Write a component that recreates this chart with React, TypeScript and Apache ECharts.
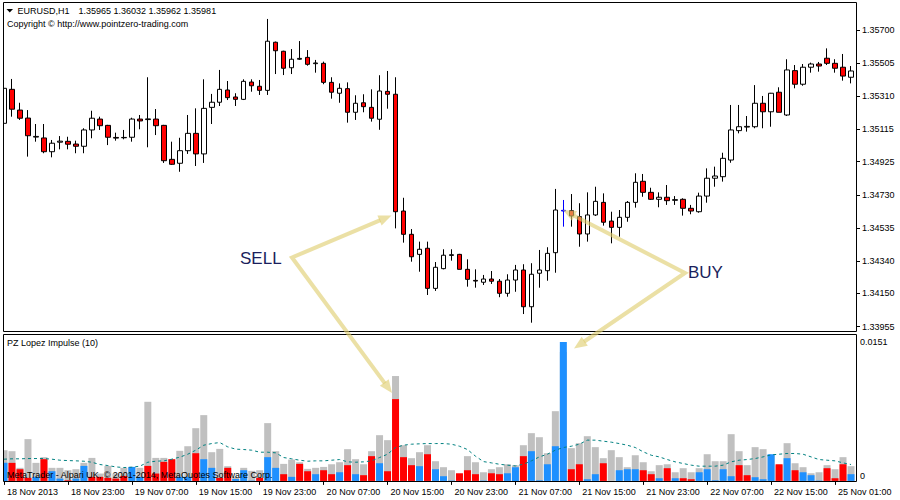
import React, { useEffect, useRef } from "react";
import * as echarts from "echarts";

// ---- Data (EURUSD H1, 18 Nov 2013 15:00 -> 25 Nov 2013) ----
const timeLabels = [
  "18 Nov 2013", "18 Nov 23:00", "19 Nov 07:00", "19 Nov 15:00", "19 Nov 23:00",
  "20 Nov 07:00", "20 Nov 15:00", "20 Nov 23:00", "21 Nov 07:00", "21 Nov 15:00",
  "21 Nov 23:00", "22 Nov 07:00", "22 Nov 15:00", "25 Nov 01:00",
];
const labelEvery = 8;

const opens = [
  1.35151, 1.35351, 1.35229, 1.35182, 1.35070, 1.35065, 1.34984, 1.35040, 1.35045, 1.35029,
  1.35016, 1.35112, 1.35176, 1.35139, 1.35068, 1.35066, 1.35069, 1.35176, 1.35173, 1.35176,
  1.35139, 1.34939, 1.34916, 1.34990, 1.35092, 1.34971, 1.35245, 1.35275, 1.35347, 1.35306,
  1.35292, 1.35394, 1.35369, 1.35345, 1.35628, 1.35575, 1.35478, 1.35528, 1.35539, 1.35502,
  1.35504, 1.35392, 1.35328, 1.35355, 1.35216, 1.35272, 1.35245, 1.35175, 1.35339, 1.35322,
  1.34635, 1.34498, 1.34380, 1.34416, 1.34180, 1.34296, 1.34374, 1.34380, 1.34292, 1.34227,
  1.34216, 1.34235, 1.34222, 1.34151, 1.34229, 1.34288, 1.34072, 1.34269, 1.34284, 1.34390,
  1.34639, 1.34637, 1.34602, 1.34500, 1.34612, 1.34686, 1.34576, 1.34539, 1.34598, 1.34686,
  1.34810, 1.34745, 1.34704, 1.34716, 1.34698, 1.34704, 1.34651, 1.34631, 1.34723, 1.34828,
  1.34837, 1.34935, 1.35108, 1.35129, 1.35131, 1.35269, 1.35219, 1.35334, 1.35200, 1.35461,
  1.35381, 1.35481, 1.35500, 1.35534, 1.35504, 1.35481, 1.35422,
];
const highs = [
  1.35406, 1.35412, 1.35272, 1.35229, 1.35147, 1.35147, 1.35053, 1.35076, 1.35072, 1.35049,
  1.35122, 1.35225, 1.35190, 1.35142, 1.35096, 1.35112, 1.35184, 1.35200, 1.35422, 1.35235,
  1.35142, 1.35043, 1.35066, 1.35200, 1.35239, 1.35410, 1.35324, 1.35465, 1.35400, 1.35328,
  1.35410, 1.35410, 1.35406, 1.35765, 1.35632, 1.35578, 1.35588, 1.35635, 1.35582, 1.35524,
  1.35514, 1.35422, 1.35386, 1.35392, 1.35316, 1.35322, 1.35351, 1.35434, 1.35459, 1.35422,
  1.34713, 1.34529, 1.34455, 1.34455, 1.34335, 1.34410, 1.34410, 1.34383, 1.34351, 1.34292,
  1.34259, 1.34282, 1.34235, 1.34263, 1.34318, 1.34322, 1.34328, 1.34406, 1.34422, 1.34765,
  1.34700, 1.34735, 1.34681, 1.34745, 1.34778, 1.34739, 1.34631, 1.34641, 1.34694, 1.34857,
  1.34853, 1.34772, 1.34745, 1.34788, 1.34723, 1.34710, 1.34671, 1.34743, 1.34886, 1.34896,
  1.34978, 1.35259, 1.35259, 1.35194, 1.35376, 1.35312, 1.35330, 1.35363, 1.35528, 1.35494,
  1.35500, 1.35508, 1.35512, 1.35592, 1.35528, 1.35559, 1.35488,
];
const lows = [
  1.35147, 1.35190, 1.35171, 1.34955, 1.35043, 1.34975, 1.34951, 1.34998, 1.34998, 1.34975,
  1.34975, 1.35063, 1.35112, 1.35023, 1.35049, 1.35057, 1.35043, 1.35116, 1.35010, 1.35082,
  1.34918, 1.34906, 1.34866, 1.34971, 1.34900, 1.34918, 1.35147, 1.35253, 1.35288, 1.35253,
  1.35288, 1.35337, 1.35318, 1.35318, 1.35441, 1.35435, 1.35441, 1.35524, 1.35490, 1.35449,
  1.35381, 1.35296, 1.35272, 1.35155, 1.35171, 1.35216, 1.35161, 1.35113, 1.35237, 1.34533,
  1.34449, 1.34337, 1.34278, 1.34141, 1.34165, 1.34292, 1.34343, 1.34292, 1.34190, 1.34184,
  1.34200, 1.34206, 1.34128, 1.34131, 1.34160, 1.34029, 1.33978, 1.34184, 1.34225, 1.34272,
  1.34543, 1.34543, 1.34425, 1.34455, 1.34606, 1.34549, 1.34445, 1.34484, 1.34572, 1.34655,
  1.34719, 1.34700, 1.34657, 1.34671, 1.34671, 1.34608, 1.34616, 1.34625, 1.34684, 1.34778,
  1.34808, 1.34919, 1.35092, 1.35102, 1.35122, 1.35122, 1.35131, 1.35216, 1.35194, 1.35357,
  1.35372, 1.35449, 1.35455, 1.35494, 1.35449, 1.35402, 1.35386,
];
const closes = [
  1.35357, 1.35234, 1.35181, 1.35078, 1.35074, 1.34984, 1.35034, 1.35046, 1.35028, 1.35016,
  1.35112, 1.35181, 1.35137, 1.35069, 1.35064, 1.35068, 1.35176, 1.35165, 1.35177, 1.35137,
  1.34931, 1.34910, 1.34990, 1.35092, 1.34971, 1.35239, 1.35275, 1.35351, 1.35302, 1.35292,
  1.35398, 1.35372, 1.35345, 1.35634, 1.35578, 1.35475, 1.35528, 1.35533, 1.35498, 1.35506,
  1.35392, 1.35334, 1.35357, 1.35216, 1.35269, 1.35249, 1.35181, 1.35341, 1.35322, 1.34631,
  1.34498, 1.34366, 1.34410, 1.34180, 1.34304, 1.34375, 1.34378, 1.34292, 1.34233, 1.34223,
  1.34235, 1.34222, 1.34151, 1.34229, 1.34288, 1.34072, 1.34263, 1.34288, 1.34386, 1.34641,
  1.34635, 1.34606, 1.34500, 1.34612, 1.34692, 1.34569, 1.34539, 1.34598, 1.34686, 1.34804,
  1.34745, 1.34704, 1.34716, 1.34696, 1.34702, 1.34651, 1.34635, 1.34723, 1.34828, 1.34841,
  1.34945, 1.35112, 1.35131, 1.35133, 1.35269, 1.35219, 1.35328, 1.35216, 1.35465, 1.35381,
  1.35481, 1.35500, 1.35488, 1.35504, 1.35475, 1.35429, 1.35459,
];
const markedCandle = 70; // candle drawn in blue

const priceTicks = [1.357, 1.35505, 1.3531, 1.35115, 1.34925, 1.3473, 1.34535, 1.3434, 1.3415, 1.33955];
const impulseTicks = [0, 0.0151];

// PZ Lopez Impulse (10): grey range, signed impulse (+ blue / - red), dotted signal line
const impulseRange = [
  0.00334, 0.00323, 0.00142, 0.00454, 0.00196, 0.00258, 0.00142, 0.00142, 0.00116, 0.00127,
  0.00196, 0.00250, 0.00080, 0.00163, 0.00080, 0.00142, 0.00152, 0.00142, 0.00860, 0.00250,
  0.00250, 0.00232, 0.00327, 0.00377, 0.00573, 0.00715, 0.00312, 0.00348, 0.00160, 0.00040,
  0.00142, 0.00109, 0.00116, 0.00628, 0.00323, 0.00185, 0.00232, 0.00203, 0.00131, 0.00142,
  0.00152, 0.00181, 0.00203, 0.00345, 0.00236, 0.00181, 0.00323, 0.00497, 0.00443, 0.01140,
  0.00388, 0.00247, 0.00312, 0.00388, 0.00214, 0.00149, 0.00116, 0.00070, 0.00269, 0.00203,
  0.00094, 0.00127, 0.00149, 0.00181, 0.00171, 0.00388, 0.00519, 0.00475, 0.00301, 0.00758,
  0.01400, 0.00356, 0.00410, 0.00486, 0.00367, 0.00247, 0.00334, 0.00258, 0.00149, 0.00279,
  0.00203, 0.00105, 0.00171, 0.00181, 0.00094, 0.00138, 0.00094, 0.00138, 0.00290, 0.00214,
  0.00214, 0.00508, 0.00323, 0.00171, 0.00367, 0.00345, 0.00280, 0.00170, 0.00410, 0.00192,
  0.00149, 0.00083, 0.00094, 0.00171, 0.00127, 0.00258, 0.00160,
];
const impulse = [
  0.00196, -0.00196, -0.00127, -0.00033, 0.00044, -0.00236, 0.00105, 0.00025, -0.00007, 0.00025,
  0.00163, -0.00044, -0.00044, -0.00033, -0.00025, -0.00054, 0.00152, 0.00044, -0.00163, -0.00080,
  -0.00207, -0.00236, 0.00044, 0.00044, -0.00301, 0.00236, 0.00142, -0.00033, -0.00142, 0.00020,
  0.00116, 0.00004, -0.00033, 0.00258, 0.00142, -0.00073, 0.00044, -0.00185, -0.00105, 0.00073,
  -0.00116, -0.00073, 0.00094, -0.00171, 0.00073, -0.00062, -0.00269, 0.00192, -0.00105, -0.00889,
  -0.00258, -0.00171, 0.00160, -0.00290, 0.00127, 0.00051, 0.00004, -0.00083, -0.00116, -0.00073,
  0.00004, -0.00083, -0.00073, 0.00083, 0.00149, -0.00269, 0.00323, 0.00007, 0.00181, 0.00377,
  0.01510, -0.00127, -0.00181, 0.00018, 0.00073, -0.00192, 0, 0.00116, 0.00127, 0.00127,
  -0.00116, -0.00073, 0.00029, -0.00138, 0.00029, -0.00029, -0.00018, 0.00094, 0.00127, 0.00007,
  0.00127, 0.00051, -0.00171, -0.00062, 0.00040, 0.00018, 0.00290, -0.00181, 0.00247, -0.00116,
  0.00094, 0.00062, 0.00004, -0.00138, -0.00029, -0.00181, 0.00073,
];
const signalLine = [
  0.00236, 0.00240, 0.00240, 0.00243, 0.00243, 0.00243, 0.00236, 0.00225, 0.00221, 0.00218,
  0.00214, 0.00203, 0.00178, 0.00167, 0.00152, 0.00145, 0.00149, 0.00160, 0.00203, 0.00214,
  0.00218, 0.00236, 0.00258, 0.00290, 0.00334, 0.00388, 0.00406, 0.00417, 0.00370, 0.00345,
  0.00341, 0.00334, 0.00312, 0.00312, 0.00305, 0.00254, 0.00240, 0.00225, 0.00214, 0.00218,
  0.00218, 0.00225, 0.00232, 0.00207, 0.00203, 0.00207, 0.00218, 0.00254, 0.00290, 0.00363,
  0.00388, 0.00399, 0.00403, 0.00406, 0.00406, 0.00406, 0.00399, 0.00377, 0.00341, 0.00269,
  0.00210, 0.00196, 0.00181, 0.00171, 0.00163, 0.00181, 0.00218, 0.00261, 0.00290, 0.00334,
  0.00363, 0.00377, 0.00399, 0.00443, 0.00443, 0.00432, 0.00421, 0.00406, 0.00388, 0.00363,
  0.00316, 0.00279, 0.00261, 0.00232, 0.00207, 0.00189, 0.00171, 0.00160, 0.00160, 0.00160,
  0.00171, 0.00207, 0.00225, 0.00232, 0.00243, 0.00261, 0.00283, 0.00290, 0.00298, 0.00298,
  0.00290, 0.00261, 0.00232, 0.00225, 0.00218, 0.00196, 0.00178,
];

// ---- Styling ----
const FONT = "'Liberation Sans', Arial, sans-serif";
const ARROW = "rgba(222,205,110,0.62)";
const NAVY = "#1b1f5c";

type Pt = [number, number];
function head(from: Pt, tip: Pt, len = 13, half = 5.5) {
  const dx = tip[0] - from[0];
  const dy = tip[1] - from[1];
  const d = Math.hypot(dx, dy);
  const ux = dx / d, uy = dy / d;
  const bx = tip[0] - ux * len, by = tip[1] - uy * len;
  const nx = -uy, ny = ux;
  return {
    base: [bx + ux * 1, by + uy * 1] as Pt,
    poly: [tip, [bx + nx * half, by + ny * half], [bx - nx * half, by - ny * half]] as Pt[],
  };
}
function vArrows(vertex: Pt, tipA: Pt, tipB: Pt) {
  const a = head(vertex, tipA);
  const b = head(vertex, tipB);
  return [
    { type: "polyline", z: 80, shape: { points: [a.base, vertex, b.base] },
      style: { stroke: ARROW, lineWidth: 4, fill: null, lineJoin: "miter" } },
    { type: "polygon", z: 80, shape: { points: a.poly }, style: { fill: ARROW } },
    { type: "polygon", z: 80, shape: { points: b.poly }, style: { fill: ARROW } },
  ];
}

function buildOption() {
  const cats = opens.map((_, i) => String(i));
  const candles = opens.map((o, i) => {
    const v = [o, closes[i], lows[i], highs[i]];
    if (i === markedCandle) {
      return { value: v, itemStyle: { borderColor: "#0000ff", borderColor0: "#0000ff", color: "#0000ff", color0: "#0000ff" } };
    }
    return v;
  });
  const colored = impulse.map((v) => ({
    value: Math.abs(v),
    itemStyle: { color: v >= 0 ? "#1e90ff" : "#ff0000" },
  }));

  const textEl = (text: string, x: number, y: number, size = 9, fill = "#000") => ({
    type: "text", z: 90, x, y,
    style: { text, fill, fontSize: size, fontFamily: FONT, verticalAlign: "middle", align: "left" },
  });

  return {
    animation: false,
    backgroundColor: "#ffffff",
    grid: [
      { left: -1, top: 3, width: 856, height: 329 },
      { left: -1, top: 334, width: 856, height: 148 },
    ],
    xAxis: [
      { type: "category", gridIndex: 0, data: cats, boundaryGap: true,
        axisLine: { show: false }, axisTick: { show: false }, axisLabel: { show: false }, splitLine: { show: false } },
      { type: "category", gridIndex: 1, data: cats, boundaryGap: true,
        axisLine: { show: false },
        axisTick: { show: true, alignWithLabel: true, interval: labelEvery - 1, length: 4, lineStyle: { color: "#000" } },
        axisLabel: {
          interval: labelEvery - 1, align: "left", margin: 5, padding: [0, 0, 0, 3],
          fontSize: 9, fontFamily: FONT, color: "#000",
          formatter: (_v: string, i: number) => timeLabels[Math.round(i / labelEvery)] ?? "",
        },
        splitLine: { show: false } },
    ],
    yAxis: [
      { type: "value", gridIndex: 0, position: "right", offset: 2,
        min: 1.339233, max: 1.358589,
        axisLine: { show: false },
        axisTick: { show: true, customValues: priceTicks, length: 3, lineStyle: { color: "#000" } },
        axisLabel: { customValues: priceTicks, margin: 5, fontSize: 9, fontFamily: FONT, color: "#000",
          formatter: (v: number) => v.toFixed(5) },
        splitLine: { show: false } },
      { type: "value", gridIndex: 1, position: "right", offset: 2,
        min: -0.00012, max: 0.01597,
        axisLine: { show: false },
        axisTick: { show: false },
        axisLabel: { customValues: impulseTicks, margin: 3, fontSize: 9, fontFamily: FONT, color: "#000",
          formatter: (v: number) => (v < 0.0001 ? "{z|0}" : "{t|" + v.toFixed(4) + "}"),
          rich: {
            z: { fontSize: 9, fontFamily: FONT, color: "#000", padding: [0, 0, 10, 0] },
            t: { fontSize: 9, fontFamily: FONT, color: "#000" },
          } },
        splitLine: { show: false } },
    ],
    series: [
      { type: "candlestick", xAxisIndex: 0, yAxisIndex: 0, data: candles, barWidth: 5,
        itemStyle: { color: "#ffffff", color0: "#ff0000", borderColor: "#000000", borderColor0: "#000000",
          borderColorDoji: "#000000", borderWidth: 1 } },
      { type: "bar", xAxisIndex: 1, yAxisIndex: 1, data: impulseRange, barWidth: 7, barGap: "-100%",
        itemStyle: { color: "#c0c0c0" } },
      { type: "bar", xAxisIndex: 1, yAxisIndex: 1, data: colored, barWidth: 7, barGap: "-100%" },
      { type: "line", xAxisIndex: 1, yAxisIndex: 1, data: signalLine, symbol: "none", z: 5,
        lineStyle: { color: "#008080", width: 1, type: [3, 3] } },
    ],
    graphic: [
      // mask left of the frame
      { type: "rect", z: 50, shape: { x: -4, y: 0, width: 7, height: 500 }, style: { fill: "#ffffff" } },
      // pane frames
      { type: "rect", z: 60, shape: { x: 3.5, y: 2.5, width: 853, height: 329 }, style: { fill: null, stroke: "#000", lineWidth: 1 } },
      { type: "rect", z: 60, shape: { x: 3.5, y: 334.5, width: 853, height: 147 }, style: { fill: null, stroke: "#000", lineWidth: 1 } },
      // header
      { type: "polygon", z: 90, shape: { points: [[6.5, 9], [13, 9], [9.75, 12.5]] }, style: { fill: "#000" } },
      textEl("EURUSD,H1", 17.5, 11),
      textEl("1.35965 1.36032 1.35962 1.35981", 78.5, 11),
      textEl("Copyright © http://www.pointzero-trading.com", 7, 24),
      textEl("PZ Lopez Impulse (10)", 7, 343),
      ...vArrows([292, 257.5], [391.5, 215.5], [392, 393]),
      ...vArrows([685, 273], [563, 210], [574, 348.5]),
      textEl("SELL", 240, 258, 17, NAVY),
      textEl("BUY", 688, 272.5, 17, NAVY),
      textEl("MetaTrader - Alpari UK, © 2001-2014, MetaQuotes Software Corp.", 7, 475),
    ],
  };
}

export default function App() {
  const ref = useRef<HTMLDivElement>(null);
  useEffect(() => {
    if (!ref.current) return;
    const chart = echarts.init(ref.current, null, { renderer: "svg" });
    chart.setOption(buildOption() as any);
    return () => chart.dispose();
  }, []);
  return (
    <div
      ref={ref}
      style={{ position: "fixed", left: 0, top: 0, width: 900, height: 500, background: "#fff" }}
    />
  );
}
